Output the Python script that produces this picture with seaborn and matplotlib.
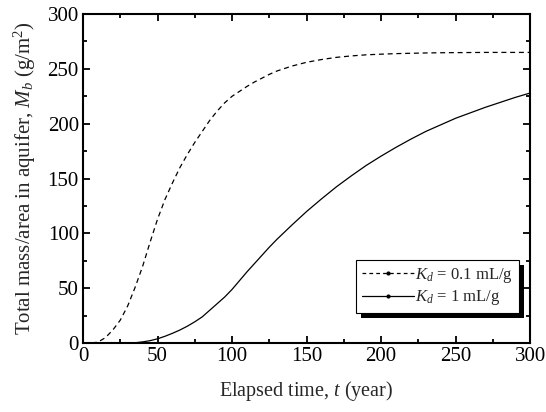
import numpy as np
import pandas as pd
import matplotlib
matplotlib.use("Agg")
import matplotlib.pyplot as plt
from matplotlib.patches import Rectangle
from matplotlib.transforms import IdentityTransform
import seaborn as sns

# values (5-year steps where the curves bend, 10-year later)
t_years = [0, 5, 10, 15, 20, 25, 30, 35, 40, 45, 50, 55, 60, 65, 70, 75, 80, 85, 90,
           95, 100, 105, 110, 115, 120, 125, 130, 140, 150, 160, 170, 180, 190, 200,
           210, 220, 230, 240, 250, 260, 270, 280, 290, 300]
mass_kd01 = [0, 0, 1, 5, 12, 21, 34, 51, 70, 92, 113, 131, 146, 160, 172, 183, 193, 203, 211.5,
             219, 225, 229.5, 234, 238, 241.5, 245, 248, 252.5, 256, 258.5, 260.5, 261.8, 262.8, 263.4,
             263.9, 264.2, 264.5, 264.7, 264.8, 264.9, 265, 265, 265, 265]
mass_kd1 = [0, 0, 0, 0, 0, 0, 0.1, 0.4, 1.2, 2.3, 4, 6.3, 9, 12, 15.5, 19.5, 24, 30, 36,
            42, 49, 57, 65, 72.5, 80, 87.5, 94.5, 107.5, 120, 131.5, 142.5, 152.5, 162, 170.5,
            178.5, 186, 193, 199, 205, 210, 215, 219.5, 224, 228]
series_labels = ["$K_d$ = 0.1 mL/g", "$K_d$ = 1 mL/g"]

df = pd.DataFrame({
    "t": t_years * 2,
    "M": mass_kd01 + mass_kd1,
    "case": [series_labels[0]] * len(t_years) + [series_labels[1]] * len(t_years),
})

sns.set_theme(style="ticks")
plt.rcParams["font.family"] = ["Liberation Serif", "DejaVu Serif"]
plt.rcParams["mathtext.fontset"] = "custom"
plt.rcParams["mathtext.rm"] = "Liberation Serif"
plt.rcParams["mathtext.it"] = "Liberation Serif:italic"

fig = plt.figure(figsize=(5.46, 4.12), dpi=100)
ax = fig.add_axes([0.152, 0.167, 0.819, 0.799])

dash_map = {series_labels[0]: (4, 3), series_labels[1]: ""}
sns.lineplot(data=df, x="t", y="M", style="case", hue="case",
             palette=["black", "black"], dashes=dash_map,
             linewidth=0.9, legend=False, ax=ax)

ax.set_xlim(0, 300)
ax.set_ylim(0, 300)
ax.set_xticks(np.arange(0, 301, 50))
ax.set_xticks(np.arange(0, 301, 25), minor=True)
ax.set_yticks(np.arange(0, 301, 50))
ax.set_yticks(np.arange(0, 301, 25), minor=True)
ax.tick_params(which="both", direction="in", top=True, right=True,
               labelsize=15, width=1.3, colors="black", pad=3)
ax.tick_params(which="major", length=5)
ax.tick_params(which="minor", length=3)
for sp in ax.spines.values():
    sp.set_linewidth(1.5)
    sp.set_color("black")

ax.set_xlabel("Elapsed time, $t$ (year)", fontsize=14.5, labelpad=9)
ax.set_ylabel("Total mass/area in aquifer, $M_b$ (g/m$^2$)", fontsize=15, labelpad=7)

# legend glyphs with the small dot seen in the reference key
handles = [plt.Line2D([], [], color="black", lw=0.9, ls="--", dashes=(3, 2.5),
                      marker="o", markersize=2),
           plt.Line2D([], [], color="black", lw=0.9, ls="-",
                      marker="o", markersize=2)]
leg = ax.legend(handles, series_labels, loc="upper right",
                bbox_to_anchor=(0.975, 0.252), borderaxespad=0,
                fontsize=12, handlelength=3.1, handletextpad=0.1,
                labelspacing=0.2, borderpad=0.35, fancybox=False, framealpha=1,
                edgecolor="black")
leg.get_frame().set_linewidth(0.8)

# solid black drop shadow behind the legend box
fig.canvas.draw()
bb = leg.get_window_extent()
shadow = Rectangle((bb.x0 + 5, bb.y0 - 5), bb.width, bb.height,
                   transform=IdentityTransform(), facecolor="black",
                   edgecolor="none", zorder=leg.get_zorder() - 0.1, clip_on=False)
ax.add_artist(shadow)

fig.savefig("out.png", dpi=100)
